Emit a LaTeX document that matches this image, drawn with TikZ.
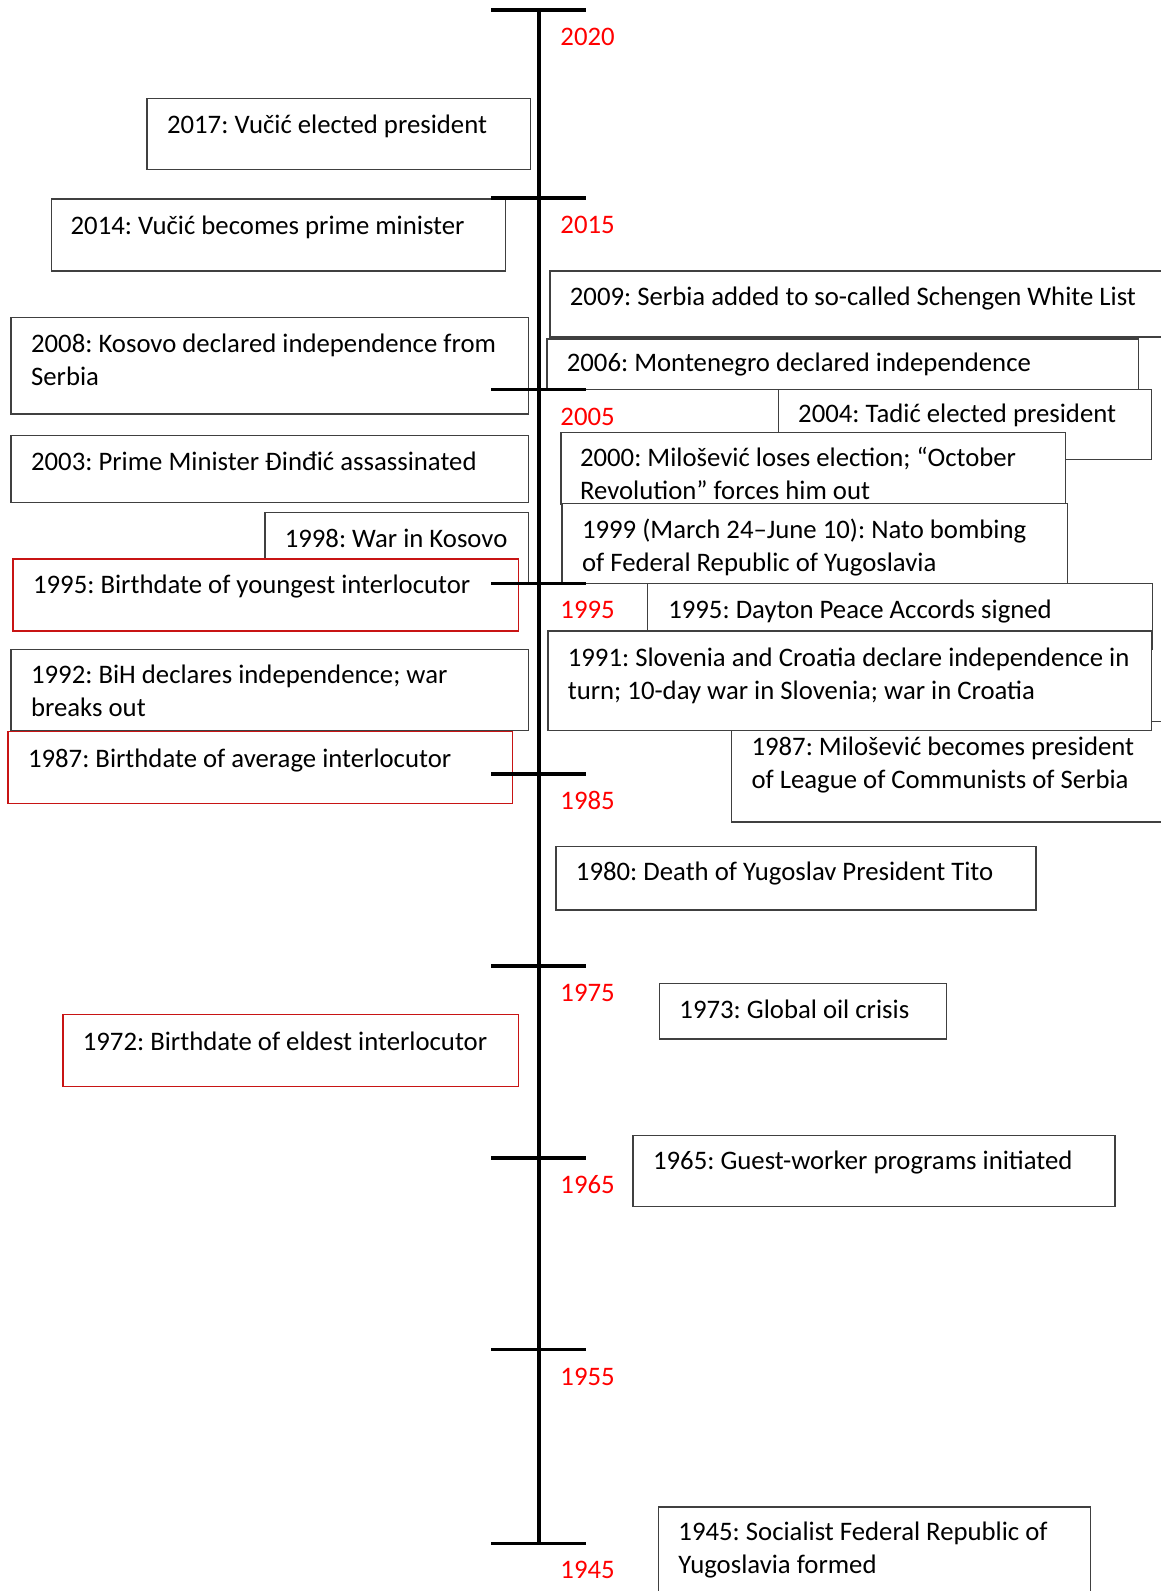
\documentclass[tikz,border=0pt]{standalone}
\usepackage{fontspec}
\setmainfont{Carlito}
\usetikzlibrary{fit,calc}
\definecolor{boxred}{RGB}{200,20,20}
\frenchspacing

\begin{document}
\begin{tikzpicture}[x=0.02cm,y=-0.02cm,font=\fontsize{15}{18.5}\selectfont]
          \tikzstyle{evbox}=[draw=black!75,line width=0.8pt,fill=white,inner sep=0pt]
          \tikzstyle{redbox}=[evbox,draw=boxred]
          \tikzstyle{evtext}=[anchor=north west,inner sep=0pt,align=left,execute at begin node=\strut]
          \tikzstyle{year}=[anchor=base west,inner sep=0pt,text=red]
          \tikzstyle{tick}=[line width=2pt]
          \useasboundingbox (0,0) rectangle (1144,1568);

          % right hand side, back to front
          \node[evbox,fit={(542,267) (1180,332)}] (e2009) {};
          \node[evtext] (t2009) at ($(e2009.north west)+(20,12)$) {2009: Serbia added to so-called Schengen White List};
          \node[evbox,fit={(539,334) (1122,384)}] (e2006) {};
          \node[evtext] (t2006) at ($(e2006.north west)+(20,10)$) {2006: Montenegro declared independence};
          \node[evbox,fit={(767,384) (1135,453)}] (e2004) {};
          \node[evtext] (t2004) at ($(e2004.north west)+(20,10)$) {2004: Tadić elected president};
          \node[evbox,fit={(553,426) (1050,497)}] (e2000) {};
          \node[evtext] (t2000) at ($(e2000.north west)+(19,15)$) {2000: Milošević loses election; “October\\Revolution” forces him out};
          \node[evbox,fit={(554,496) (1052,575)}] (e1999) {};
          \node[evtext] (t1999) at ($(e1999.north west)+(20,16)$) {1999 (March 24–June 10): Nato bombing\\of Federal Republic of Yugoslavia};
          \node[evbox,fit={(638,575) (1136,640)}] (e1995) {};
          \node[evtext] (t1995) at ($(e1995.north west)+(21,12)$) {1995: Dayton Peace Accords signed};
          \node[evbox,fit={(721,711) (1180,810)}] (e1987) {};
          \node[evtext] (t1987) at ($(e1987.north west)+(20,16)$) {1987: Milošević becomes president\\of League of Communists of Serbia};
          \node[evbox,fit={(540,622) (1135,720)}] (e1991) {};
          \node[evtext] (t1991) at ($(e1991.north west)+(20,17)$) {1991: Slovenia and Croatia declare independence in\\turn; 10-day war in Slovenia; war in Croatia};
          \node[evbox,fit={(548,834) (1021,897)}] (e1980) {};
          \node[evtext] (t1980) at ($(e1980.north west)+(20,11)$) {1980: Death of Yugoslav President Tito};
          \node[evbox,fit={(650,969) (933,1024)}] (e1973) {};
          \node[evtext] (t1973) at ($(e1973.north west)+(20,12)$) {1973: Global oil crisis};
          \node[evbox,fit={(624,1119) (1099,1189)}] (e1965) {};
          \node[evtext] (t1965) at ($(e1965.north west)+(20,11)$) {1965: Guest-worker programs initiated};
          \node[evbox,fit={(649,1485) (1075,1600)}] (e1945) {};
          \node[evtext] (t1945) at ($(e1945.north west)+(20,15)$) {1945: Socialist Federal Republic of\\Yugoslavia formed};

          % left hand side
          \node[evbox,fit={(145,97) (523,167)}] (e2017) {};
          \node[evtext] (t2017) at ($(e2017.north west)+(20,12)$) {2017: Vučić elected president};
          \node[evbox,fit={(51,196) (498,267)}] (e2014) {};
          \node[evtext] (t2014) at ($(e2014.north west)+(19,13)$) {2014: Vučić becomes prime minister};
          \node[evbox,fit={(11,313) (521,408)}] (e2008) {};
          \node[evtext] (t2008) at ($(e2008.north west)+(20,16)$) {2008: Kosovo declared independence from\\Serbia};
          \node[evbox,fit={(11,429) (521,495)}] (e2003) {};
          \node[evtext] (t2003) at ($(e2003.north west)+(20,12)$) {2003: Prime Minister Đinđić assassinated};
          \node[evbox,fit={(261,505) (521,576)}] (e1998) {};
          \node[evtext] (t1998) at ($(e1998.north west)+(20,12)$) {1998: War in Kosovo};
          \node[redbox,fit={(13,551) (511,622)}] (b1995) {};
          \node[evtext] (s1995) at ($(b1995.north west)+(20,12)$) {1995: Birthdate of youngest interlocutor};
          \node[evbox,fit={(11,640) (521,720)}] (e1992) {};
          \node[evtext] (t1992) at ($(e1992.north west)+(20,16)$) {1992: BiH declares independence; war\\breaks out};
          \node[redbox,fit={(8,721) (505,792)}] (b1987) {};
          \node[evtext] (s1987) at ($(b1987.north west)+(20,13)$) {1987: Birthdate of average interlocutor};
          \node[redbox,fit={(62,1000) (511,1071)}] (b1972) {};
          \node[evtext] (s1972) at ($(b1972.north west)+(20,13)$) {1972: Birthdate of eldest interlocutor};

          % the time axis
          \coordinate (top) at (531,10);
          \coordinate (bottom) at (531,1522);
          \draw[line width=2pt] (top) -- (bottom);
          \foreach \y/\yr in {10/2020,195/2015,384/2005,575/1995,763/1985,952/1975,1141/1965,1330/1955,1521/1945}{
            \draw[tick] (484,\y) -- (578,\y);
            \node[year] (y\yr) at (552,\y+35) {\yr};
          }
        \end{tikzpicture}
\end{document}
